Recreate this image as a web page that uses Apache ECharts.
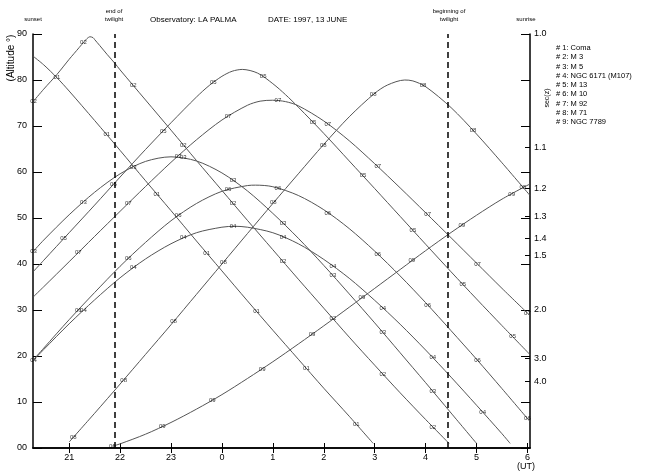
<!DOCTYPE html>
<html><head><meta charset="utf-8">
<script src="https://cdn.jsdelivr.net/npm/echarts@6/dist/echarts.min.js"></script>
<style>html,body{margin:0;padding:0;background:#fff}#c{width:649px;height:474px}</style>
</head><body><div id="c"></div>
<script>
// ---- axis / tick data ----
const hourTicks = [21, 22, 23, 24, 25, 26, 27, 28, 29, 30];
const hourLabels = ['21', '22', '23', '0', '1', '2', '3', '4', '5', '6'];
const secValues = [1.0, 1.1, 1.2, 1.3, 1.4, 1.5, 2.0, 3.0, 4.0];
const secLabels = ['1.0', '1.1', '1.2', '1.3', '1.4', '1.5', '2.0', '3.0', '4.0'];
const twilight = [21.89, 28.44];
const objectNames = ['Coma', 'M 3', 'M 5', 'NGC 6171 (M107)', 'M 13', 'M 10', 'M 92', 'M 71', 'NGC 7789'];

// ---- altitude curves: [UT hour (after midnight = 24+), altitude deg] ----
const coma = [[20.30,85.1],[20.5,83.3],[20.76,80.5],[21.0,77.6],[21.5,71.2],[22.0,64.7],[22.5,58.1],[23.0,51.6],[23.5,45.0],[24.0,38.5],[24.5,32.0],[25.0,25.6],[25.5,19.3],[26.0,13.0],[26.5,6.9],[26.97,1.0]];
const m3 = [[20.30,75.4],[20.5,78.0],[20.76,81.2],[21.0,84.5],[21.1,85.8],[21.2,87.1],[21.3,88.4],[21.35,89.0],[21.41,89.4],[21.47,89.2],[21.5,88.8],[21.6,87.5],[21.75,85.5],[21.9,83.6],[22.0,82.2],[22.5,75.65],[23.0,69.1],[23.5,62.5],[24.0,56.0],[24.5,49.5],[25.0,43.1],[25.5,36.7],[26.0,30.4],[26.5,24.1],[27.0,18.0],[27.5,12.0],[28.0,6.2],[28.46,1.0]];
const m5 = [[20.30,42.8],[20.5,45.2],[21.0,50.7],[21.5,55.6],[22.0,59.6],[22.5,62.3],[23.0,63.3],[23.5,62.4],[24.0,59.8],[24.5,55.9],[25.0,51.0],[25.5,45.6],[26.0,39.7],[26.5,33.5],[27.0,27.2],[27.5,20.7],[28.0,14.2],[28.5,7.6],[29.0,1.0]];
const m107 = [[20.30,19.1],[20.5,21.4],[21.0,27.0],[21.5,32.2],[22.0,37.0],[22.5,41.1],[23.0,44.4],[23.5,46.8],[24.0,48.0],[24.25,48.2],[24.5,48.0],[25.0,46.8],[25.5,44.4],[26.0,41.0],[26.5,36.9],[27.0,32.1],[27.5,26.9],[28.0,21.3],[28.5,15.4],[29.0,9.3],[29.5,3.1],[29.66,1.0]];
const m13 = [[20.30,38.4],[20.5,40.8],[21.0,46.8],[21.5,52.8],[22.0,58.9],[22.5,64.9],[23.0,70.7],[23.5,76.3],[23.75,78.8],[24.0,80.8],[24.2,81.9],[24.4,82.3],[24.7,81.5],[25.0,79.2],[25.25,76.8],[25.5,74.1],[26.0,68.4],[26.5,62.4],[27.0,56.4],[27.5,50.35],[28.0,44.3],[28.5,38.3],[29.0,32.4],[29.5,26.6],[30.05,20.3]];
const m10 = [[20.30,19.2],[20.5,21.7],[21.0,27.9],[21.5,33.8],[22.0,39.5],[22.5,44.7],[23.0,49.4],[23.5,53.15],[24.0,55.8],[24.5,57.05],[24.66,57.14],[25.0,56.8],[25.5,54.9],[26.0,51.8],[26.5,47.7],[27.0,42.8],[27.5,37.4],[28.0,31.6],[28.5,25.5],[29.0,19.3],[29.5,12.9],[30.05,5.75]];
const m92 = [[20.30,32.9],[20.5,35.05],[21.0,40.5],[21.5,46.0],[22.0,51.45],[22.5,56.85],[23.0,62.1],[23.5,67.0],[24.0,71.3],[24.5,74.5],[24.75,75.4],[24.99,75.6],[25.25,75.3],[25.5,74.4],[26.0,71.1],[26.5,66.8],[27.0,61.8],[27.5,56.55],[28.0,51.15],[28.5,45.7],[29.0,40.2],[29.5,34.7],[30.05,28.8]];
const m71 = [[21.0,1.3],[21.5,7.55],[22.0,13.9],[22.5,20.35],[23.0,26.8],[23.5,33.4],[24.0,40.0],[24.5,46.6],[25.0,53.15],[25.5,59.6],[26.0,66.0],[26.5,72.0],[27.0,77.1],[27.25,78.9],[27.59,80.0],[27.75,79.8],[28.0,78.55],[28.5,74.0],[29.0,68.25],[29.5,62.0],[30.05,54.9]];
const ngc7789 = [[21.85,0.4],[22.0,0.9],[22.5,3.0],[23.0,5.55],[23.5,8.45],[24.0,11.6],[24.5,15.1],[25.0,18.75],[25.5,22.6],[26.0,26.55],[26.5,30.6],[27.0,34.7],[27.5,38.8],[28.0,42.9],[28.5,46.85],[29.0,50.6],[29.5,54.1],[30.05,57.4]];

// ---- positions of the small "0N" curve labels ----
const comaLbl = [[20.76,80.5],[21.74,68.1],[22.72,55.2],[23.70,42.4],[24.68,29.7],[25.66,17.3],[26.64,5.2]];
const m3Lbl = [[20.30,75.4],[21.28,88.2],[22.26,78.8],[23.24,65.9],[24.22,53.1],[25.20,40.5],[26.18,28.1],[27.16,16.1],[28.14,4.4]];
const m5Lbl = [[20.30,42.8],[21.28,53.5],[22.26,61.1],[23.24,63.1],[24.22,58.2],[25.20,48.9],[26.18,37.5],[27.16,25.1],[28.14,12.4]];
const m107Lbl = [[20.30,19.1],[21.28,29.9],[22.26,39.2],[23.24,45.7],[24.22,48.2],[25.20,45.9],[26.18,39.5],[27.16,30.4],[28.14,19.6],[29.12,7.8]];
const m13Lbl = [[20.89,45.5],[21.87,57.3],[22.85,68.9],[23.83,79.5],[24.81,80.7],[25.79,70.8],[26.77,59.2],[27.75,47.3],[28.73,35.6],[29.71,24.2]];
const m10Lbl = [[21.18,30.0],[22.16,41.2],[23.14,50.5],[24.12,56.2],[25.10,56.5],[26.08,51.1],[27.06,42.2],[28.04,31.1],[29.02,19.0],[30.00,6.4]];
const m92Lbl = [[21.18,42.5],[22.16,53.2],[23.14,63.5],[24.12,72.1],[25.10,75.55],[26.08,70.4],[27.06,61.2],[28.04,50.7],[29.02,40.0],[30.00,29.3]];
const m71Lbl = [[21.08,2.3],[22.07,14.8],[23.05,27.5],[24.03,40.4],[25.01,53.3],[25.99,65.9],[26.97,76.9],[27.95,78.8],[28.93,69.1],[29.91,56.7]];
const ngc7789Lbl = [[21.85,0.4],[22.83,4.7],[23.81,10.4],[24.79,17.2],[25.77,24.7],[26.75,32.65],[27.73,40.7],[28.71,48.4],[29.69,55.2]];

const curves = [coma, m3, m5, m107, m13, m10, m92, m71, ngc7789];
const labelSets = [comaLbl, m3Lbl, m5Lbl, m107Lbl, m13Lbl, m10Lbl, m92Lbl, m71Lbl, ngc7789Lbl];

// ---- build chart ----
const FONT = 'Liberation Sans';
const secAlt = secValues.map(s => 90 - Math.acos(1 / s) * 180 / Math.PI);
const XMIN = 20.29, XMAX = 30.05;

const series = [];
curves.forEach((d, i) => {
  const s = {
    type: 'line', data: d, showSymbol: false, smooth: 0.3,
    xAxisIndex: 0, yAxisIndex: 0, clip: true, silent: true,
    lineStyle: { color: '#555', width: 1 }, z: 2
  };
  if (i === 0) {
    s.markLine = {
      silent: true, symbol: ['none', 'none'], label: { show: false },
      lineStyle: { color: '#000', width: 1.5, type: [6, 4] },
      data: twilight.map(t => ({ xAxis: t }))
    };
  }
  series.push(s);
});
labelSets.forEach((d, i) => {
  series.push({
    type: 'scatter', data: d, symbol: 'circle', symbolSize: 1,
    xAxisIndex: 0, yAxisIndex: 0, silent: true, z: 5,
    itemStyle: { color: 'rgba(0,0,0,0)' },
    label: { show: true, position: 'inside', formatter: '0' + (i + 1),
      fontSize: 6, fontFamily: FONT, color: '#000' }
  });
});

const axisLine = { show: true, lineStyle: { color: '#000', width: 1.5 } };
const graphics = [];
function txt(text, x, y, size, align, extra) {
  graphics.push(Object.assign({
    type: 'text', x: x, y: y, silent: true,
    style: { text: text, x: 0, y: 0, font: size + 'px "' + FONT + '"', fill: '#000',
      textAlign: align || 'center', textVerticalAlign: 'middle' }
  }, extra || {}));
}
txt('sunset', 33, 19, 6);
txt('end of', 114, 11, 6);
txt('twilight', 114, 19, 6);
txt('beginning of', 449, 11, 6);
txt('twilight', 449, 19, 6);
txt('sunrise', 526, 19, 6);
txt('Observatory: LA PALMA', 150, 20, 8, 'left');
txt('DATE: 1997, 13 JUNE', 268, 20, 8, 'left');
txt('(UT)', 526, 467, 9);
txt('(Altitude °)', 11, 58, 10, 'center', { rotation: Math.PI / 2 });
txt('sec(z)', 547, 98, 7, 'center', { rotation: Math.PI / 2 });
objectNames.forEach((n, i) => txt('# ' + (i + 1) + ': ' + n, 556, 48 + i * 9.25, 7.5, 'left'));

const option = {
  animation: false,
  backgroundColor: '#fff',
  grid: { left: 33, right: 119, top: 34, bottom: 26, containLabel: false },
  xAxis: [
    { type: 'value', position: 'bottom', min: XMIN, max: XMAX,
      axisLine: axisLine, splitLine: { show: false },
      axisTick: { show: true, inside: true, length: 5, customValues: hourTicks, lineStyle: { color: '#000', width: 1 } },
      axisLabel: { show: true, customValues: hourTicks, margin: 5, fontSize: 9, fontFamily: FONT, color: '#000',
        formatter: v => hourLabels[hourTicks.indexOf(Math.round(v))] } },
    { type: 'value', position: 'top', min: XMIN, max: XMAX,
      axisLine: axisLine, splitLine: { show: false },
      axisTick: { show: true, inside: true, length: 5, customValues: hourTicks, lineStyle: { color: '#000', width: 1 } },
      axisLabel: { show: false } }
  ],
  yAxis: [
    { type: 'value', position: 'left', min: 0, max: 90, interval: 10,
      axisLine: axisLine, splitLine: { show: false },
      axisTick: { show: true, inside: true, length: 9, lineStyle: { color: '#000', width: 1 } },
      axisLabel: { margin: 6, fontSize: 9, fontFamily: FONT, color: '#000',
        formatter: v => (v === 0 ? '00' : String(v)) } },
    { type: 'value', position: 'right', min: 0, max: 90, interval: 10,
      axisLine: axisLine, splitLine: { show: false },
      axisTick: { show: true, inside: true, length: 9, lineStyle: { color: '#000', width: 1 } },
      axisLabel: { show: false } },
    { type: 'value', position: 'right', min: 0, max: 90,
      axisLine: { show: false }, splitLine: { show: false },
      axisTick: { show: true, inside: true, length: 5, customValues: secAlt, lineStyle: { color: '#000', width: 1 } },
      axisLabel: { show: true, customValues: secAlt, margin: 4, fontSize: 9, fontFamily: FONT, color: '#000',
        formatter: v => {
          let best = 0;
          secAlt.forEach((a, k) => { if (Math.abs(a - v) < Math.abs(secAlt[best] - v)) best = k; });
          return secLabels[best];
        } } }
  ],
  series: series,
  graphic: graphics
};
const chart = echarts.init(document.getElementById('c'), null, { renderer: 'canvas' });
chart.setOption(option);
</script>
</body></html>
